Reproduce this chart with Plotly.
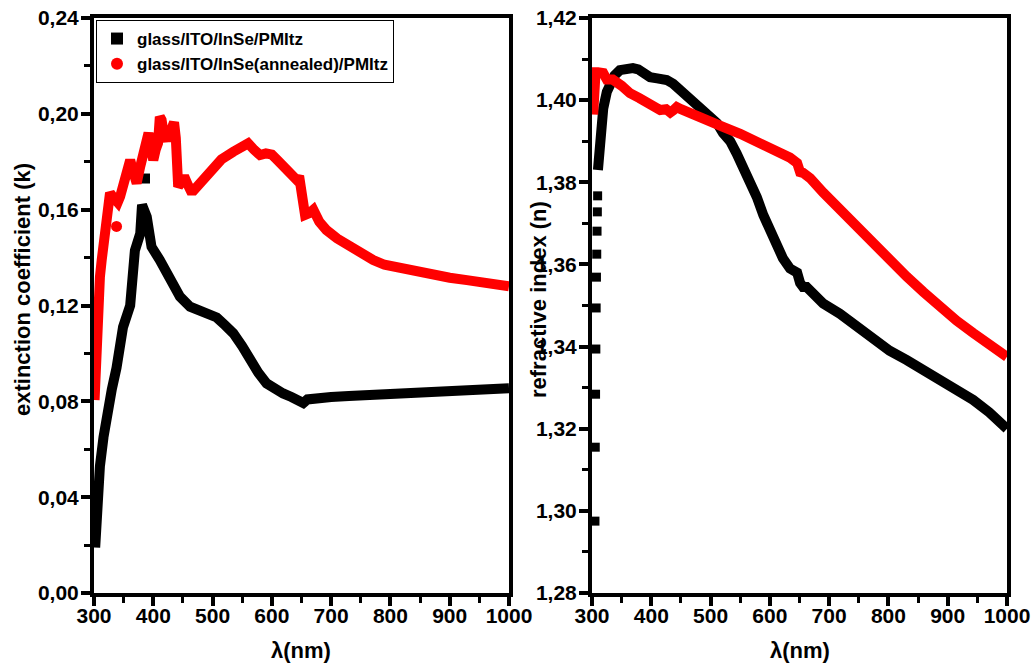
import plotly.graph_objects as go

# ---------------- data ----------------
series_names = ["glass/ITO/InSe/PMItz", "glass/ITO/InSe(annealed)/PMItz"]

# left panel: extinction coefficient k
lam_k_black = [302, 305, 310, 316, 321, 330, 338, 349, 361, 369, 378, 381, 389, 397, 411, 428, 445,
               462, 479, 490, 507, 520, 535, 550, 563, 577, 591, 605, 619, 633, 647, 653, 660, 676,
               700, 730, 760, 800, 840, 872, 920, 960, 1000]
k_black = [0.019, 0.035, 0.053, 0.065, 0.074, 0.085, 0.094, 0.111, 0.120, 0.143, 0.150, 0.162, 0.157,
           0.1445, 0.139, 0.132, 0.1237, 0.1195, 0.1180, 0.1160, 0.1150, 0.1120, 0.1084, 0.1030,
           0.0972, 0.0920, 0.0875, 0.0850, 0.0833, 0.0818, 0.0806, 0.0793, 0.0808, 0.0814, 0.0818,
           0.0822, 0.0826, 0.0834, 0.0842, 0.0847, 0.0851, 0.0853, 0.0855]
lam_k_black_pts = [386]
k_black_pts = [0.173]

lam_k_red = [301, 302, 303, 304, 305, 307, 310, 313, 318, 322, 327, 333, 340, 344, 350, 355, 361, 366,
             372, 378, 383, 388, 392, 396, 400, 404, 408, 411, 414, 418, 423, 428, 432, 435, 438, 440,
             442, 446, 452, 458, 463, 468, 478, 490, 501, 515, 535, 548, 560, 570, 580, 590, 600, 610,
             620, 632, 642, 646, 650, 656, 663, 670, 680, 692, 710, 732, 750, 771, 790, 816, 845, 872,
             900, 929, 960, 1000]
k_red = [0.0805, 0.088, 0.096, 0.104, 0.112, 0.122, 0.132, 0.139, 0.152, 0.160, 0.167, 0.165, 0.163,
         0.1654, 0.170, 0.1737, 0.1807, 0.176, 0.171, 0.178, 0.185, 0.189, 0.192, 0.186, 0.1807, 0.185,
         0.1877, 0.1988, 0.1975, 0.191, 0.189, 0.192, 0.196, 0.1965, 0.190, 0.182, 0.1696, 0.171, 0.174,
         0.1705, 0.168, 0.168, 0.171, 0.175, 0.178, 0.181, 0.1842, 0.1865, 0.1877, 0.185, 0.1828,
         0.1835, 0.1830, 0.1805, 0.178, 0.175, 0.1724, 0.174, 0.1654, 0.1578, 0.1585, 0.160, 0.155,
         0.1515, 0.148, 0.1445, 0.1415, 0.139, 0.137, 0.1355, 0.134, 0.1327, 0.1316, 0.1306, 0.1295,
         0.128]
lam_k_red_pts = [338]
k_red_pts = [0.153]

# right panel: refractive index n
lam_n_black = [310, 315, 319, 325, 330, 338, 347, 358, 369, 378, 386, 398, 410, 426, 437, 448, 465,
               482, 496, 511, 521, 533, 544, 555, 566, 578, 589, 600, 612, 622, 634, 643, 646, 651,
               656, 662, 673, 690, 718, 746, 774, 802, 831, 859, 887, 915, 943, 970, 1000]
n_black = [1.383, 1.393, 1.398, 1.402, 1.4041, 1.406, 1.4073, 1.4078, 1.4078, 1.4075, 1.4066, 1.4056,
           1.4053, 1.4049, 1.404, 1.4025, 1.4008, 1.3983, 1.3965, 1.3944, 1.392, 1.390, 1.387, 1.3837,
           1.380, 1.3764, 1.372, 1.3684, 1.3645, 1.3615, 1.359, 1.3578, 1.358, 1.3555, 1.3545, 1.3545,
           1.353, 1.3505, 1.348, 1.3448, 1.3416, 1.339, 1.3367, 1.3343, 1.332, 1.3296, 1.327, 1.324,
           1.320]
lam_n_black_pts = [305, 305.5, 306, 306.5, 307, 307.5, 308, 308.5, 309, 309.5]
n_black_pts = [1.2975, 1.3155, 1.3284, 1.3394, 1.3494, 1.3569, 1.3625, 1.3681, 1.3728, 1.3767]

lam_n_red = [302, 303, 304, 306, 310, 319, 325, 335, 350, 364, 380, 393, 405, 415, 425, 432, 437, 443,
             450, 465, 490, 521, 550, 578, 600, 622, 634, 646, 651, 656, 668, 690, 718, 746, 774, 802,
             831, 859, 887, 915, 943, 970, 1000]
n_red = [1.3965, 1.400, 1.404, 1.4068, 1.4068, 1.4066, 1.405, 1.405, 1.4035, 1.4017, 1.4005, 1.3993,
         1.3988, 1.3976, 1.3978, 1.397, 1.3975, 1.3983, 1.3978, 1.397, 1.3955, 1.3935, 1.3918, 1.390,
         1.3885, 1.387, 1.386, 1.3847, 1.3825, 1.3823, 1.381, 1.3775, 1.3733, 1.3693, 1.3652, 1.361,
         1.357, 1.3533, 1.3496, 1.3463, 1.3433, 1.3405, 1.3375]

# axis ticks / labels
x_range = [300, 1000]
k_range = [0.0, 0.24]
n_range = [1.28, 1.42]
x_tickvals = [300, 400, 500, 600, 700, 800, 900, 1000]
x_ticktext = ["300", "400", "500", "600", "700", "800", "900", "1000"]
k_tickvals = [0.00, 0.04, 0.08, 0.12, 0.16, 0.20, 0.24]
k_ticktext = ["0,00", "0,04", "0,08", "0,12", "0,16", "0,20", "0,24"]
n_tickvals = [1.28, 1.30, 1.32, 1.34, 1.36, 1.38, 1.40, 1.42]
n_ticktext = ["1,28", "1,30", "1,32", "1,34", "1,36", "1,38", "1,40", "1,42"]
x_minor_step = 50
k_minor_step = 0.02
n_minor_step = 0.01

x_title = "λ(nm)"
k_title = "extinction coefficient (k)"
n_title = "refractive index (n)"

# ---------------- styling ----------------
W, H = 1032, 669
ML, MR, MT, MB = 94, 25, 18, 76          # plot-area margins (px)
PW, PH = W - ML - MR, H - MT - MB        # plot-area size (px)
BLACK = "#000000"
RED = "#ff0000"
LW = 10
FONT = "Liberation Sans, Arial, sans-serif"


def px(p):   # pixel x -> paper x
    return (p - ML) / PW


def py(p):   # pixel y -> paper y
    return (H - MB - p) / PH


fig = go.Figure()

# black series
fig.add_trace(go.Scatter(x=lam_k_black, y=k_black, mode="lines", line=dict(color=BLACK, width=LW),
                         xaxis="x", yaxis="y", showlegend=False, legendgroup="a"))
fig.add_trace(go.Scatter(x=lam_k_black_pts, y=k_black_pts, mode="markers",
                         marker=dict(symbol="square", size=10, color=BLACK),
                         xaxis="x", yaxis="y", showlegend=False, legendgroup="a"))
fig.add_trace(go.Scatter(x=lam_n_black, y=n_black, mode="lines", line=dict(color=BLACK, width=LW),
                         xaxis="x2", yaxis="y2", showlegend=False, legendgroup="a"))
fig.add_trace(go.Scatter(x=lam_n_black_pts, y=n_black_pts, mode="markers",
                         marker=dict(symbol="square", size=9, color=BLACK),
                         xaxis="x2", yaxis="y2", showlegend=False, legendgroup="a"))
# red series
fig.add_trace(go.Scatter(x=lam_k_red, y=k_red, mode="lines", line=dict(color=RED, width=LW),
                         xaxis="x", yaxis="y", showlegend=False, legendgroup="b"))
fig.add_trace(go.Scatter(x=lam_k_red_pts, y=k_red_pts, mode="markers",
                         marker=dict(symbol="circle", size=11, color=RED),
                         xaxis="x", yaxis="y", showlegend=False, legendgroup="b"))
fig.add_trace(go.Scatter(x=lam_n_red, y=n_red, mode="lines", line=dict(color=RED, width=LW),
                         xaxis="x2", yaxis="y2", showlegend=False, legendgroup="b"))

# legend entries (marker only, as in the reference)
fig.add_trace(go.Scatter(x=[None], y=[None], mode="markers", name=series_names[0],
                         marker=dict(symbol="square", size=9, color=BLACK), legendgroup="a"))
fig.add_trace(go.Scatter(x=[None], y=[None], mode="markers", name=series_names[1],
                         marker=dict(symbol="circle", size=11, color=RED), legendgroup="b"))

tickfont = dict(family=FONT, size=21, color=BLACK, weight="bold")
common_axis = dict(showline=True, linewidth=4, linecolor=BLACK, mirror=True,
                   ticks="outside", ticklen=9, tickwidth=4, tickcolor=BLACK,
                   automargin=False, showgrid=False, zeroline=False, tickfont=tickfont,
                   tickmode="array")


def minor(step):
    return dict(ticks="outside", ticklen=6, tickwidth=3, tickcolor=BLACK, dtick=step)


xdom1 = [0, px(509)]
xdom2 = [px(592), 1]

fig.update_layout(
    width=W, height=H,
    margin=dict(l=ML, r=MR, t=MT, b=MB, pad=0, autoexpand=False),
    paper_bgcolor="white", plot_bgcolor="white",
    xaxis=dict(domain=xdom1, range=x_range, anchor="y", tickvals=x_tickvals, ticktext=x_ticktext,
               minor=minor(x_minor_step), ticklabelstandoff=-8, **common_axis),
    yaxis=dict(domain=[0, 1], range=k_range, anchor="x", tickvals=k_tickvals, ticktext=k_ticktext,
               minor=minor(k_minor_step), ticklabelstandoff=-2, **common_axis),
    xaxis2=dict(domain=xdom2, range=x_range, anchor="y2", tickvals=x_tickvals, ticktext=x_ticktext,
                minor=minor(x_minor_step), ticklabelstandoff=-8, **common_axis),
    yaxis2=dict(domain=[0, 1], range=n_range, anchor="x2", tickvals=n_tickvals, ticktext=n_ticktext,
                minor=minor(n_minor_step), ticklabelstandoff=-2, **common_axis),
    showlegend=True,
    legend=dict(x=px(96), y=py(20), xanchor="left", yanchor="top",
                bgcolor="white", bordercolor=BLACK, borderwidth=1,
                font=dict(family=FONT, size=17, color=BLACK, weight="bold"),
                tracegroupgap=0, itemsizing="constant"),
)

titlefont = dict(family=FONT, size=22, color=BLACK, weight="bold")
annotations = [
    dict(text=x_title, x=px(301), y=py(650), xref="paper", yref="paper", showarrow=False,
         font=titlefont, xanchor="center", yanchor="middle"),
    dict(text=x_title, x=px(800), y=py(650), xref="paper", yref="paper", showarrow=False,
         font=titlefont, xanchor="center", yanchor="middle"),
    dict(text=k_title, x=px(22), y=py(290), xref="paper", yref="paper", showarrow=False,
         font=titlefont, textangle=-90, xanchor="center", yanchor="middle"),
    dict(text=n_title, x=px(538), y=py(300), xref="paper", yref="paper", showarrow=False,
         font=titlefont, textangle=-90, xanchor="center", yanchor="middle"),
]
fig.update_layout(annotations=annotations)

fig.write_html("out.html")
